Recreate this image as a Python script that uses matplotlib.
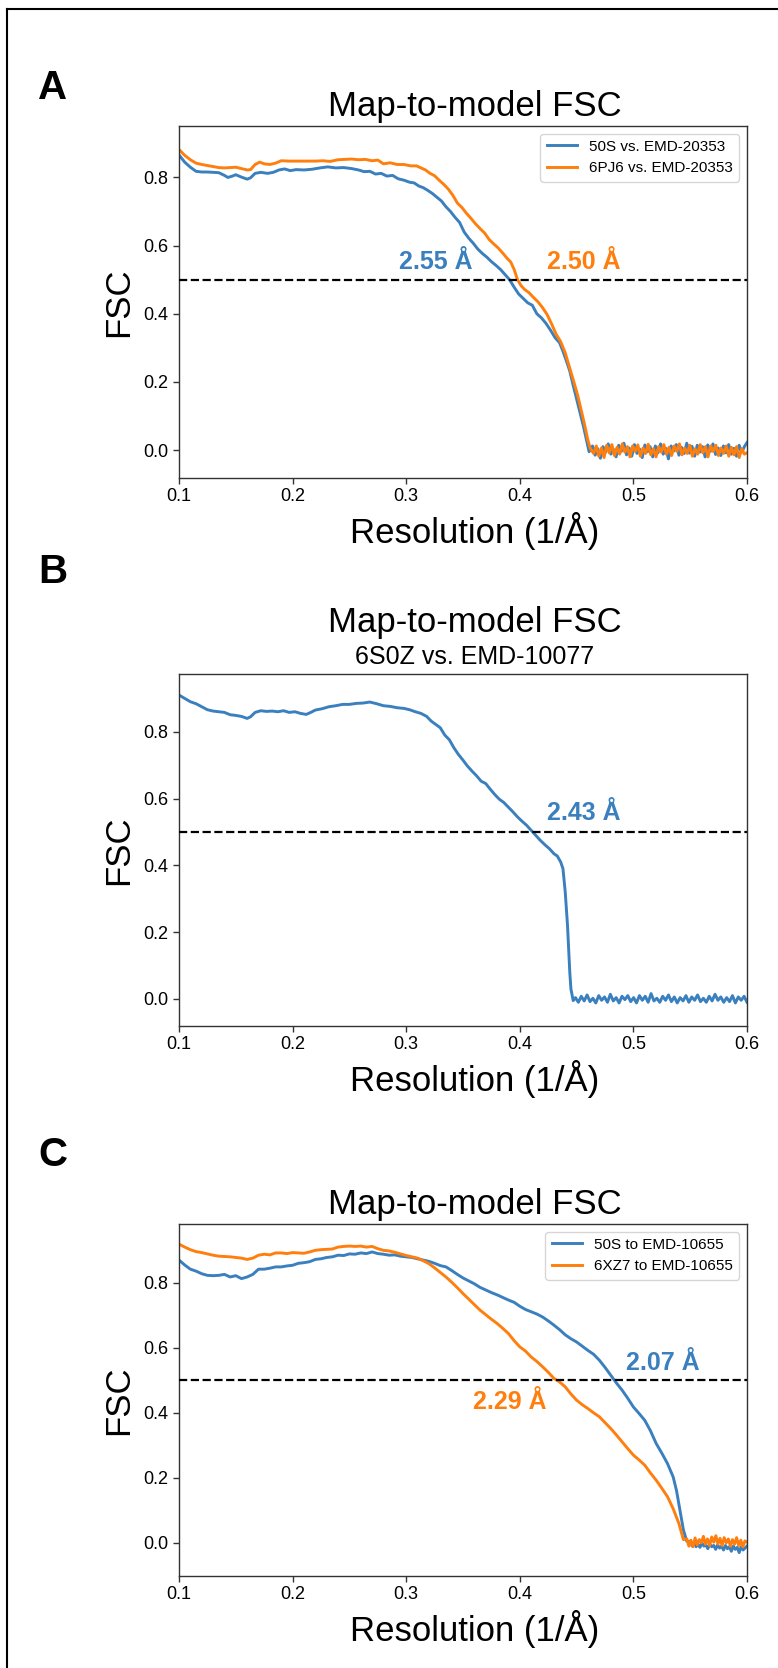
import numpy as np
import matplotlib
matplotlib.use("Agg")
import matplotlib.pyplot as plt
from matplotlib.lines import Line2D

plt.rcParams['font.family'] = ['Liberation Sans', 'DejaVu Sans']

BLUE = '#3a7fbe'
ORANGE = '#ff7f0e'

# ---------------- Panel A data ----------------
a_blue_x = [0.100,0.105,0.110,0.115,0.120,0.125,0.130,0.135,0.140,0.143,0.147,0.150,0.155,0.160,0.163,0.167,
            0.172,0.178,0.183,0.188,0.193,0.198,0.203,0.210,0.217,0.224,0.231,0.238,0.245,0.252,0.258,0.263,
            0.268,0.273,0.278,0.283,0.288,0.293,0.298,0.303,0.307,0.311,0.315,0.319,0.323,0.327,0.331,0.335,
            0.339,0.343,0.347,0.351,0.355,0.359,0.363,0.367,0.371,0.375,0.379,0.383,0.387,0.391,0.395,0.399,
            0.403,0.407,0.411,0.415,0.419,0.423,0.427,0.431,0.435,0.438,0.441,0.444,0.447,0.450,0.453,0.456,
            0.459,0.461]
a_blue_y = [0.866,0.845,0.830,0.818,0.816,0.816,0.815,0.814,0.806,0.800,0.804,0.808,0.801,0.795,0.799,0.812,
            0.815,0.812,0.815,0.822,0.825,0.820,0.823,0.822,0.824,0.828,0.831,0.828,0.829,0.826,0.822,0.817,
            0.818,0.810,0.812,0.804,0.806,0.796,0.792,0.786,0.784,0.775,0.770,0.762,0.753,0.742,0.731,0.714,
            0.700,0.683,0.668,0.640,0.622,0.607,0.590,0.577,0.566,0.553,0.542,0.530,0.515,0.500,0.478,0.458,
            0.445,0.432,0.425,0.400,0.388,0.372,0.352,0.330,0.315,0.290,0.262,0.232,0.190,0.150,0.110,0.070,
            0.025,-0.005]
a_blue_tail = [0.012,-0.015,0.004,-0.024,0.010,-0.006,0.018,-0.012,0.002,-0.020,
               0.014,-0.004,0.020,-0.014,0.006,-0.018,0.016,-0.010,0.003,-0.022,
               0.015,-0.005,0.010,-0.020,0.012,-0.008,0.018,-0.012,0.005,-0.026,
               0.012,-0.003,0.016,-0.015,0.008,-0.010,0.020,-0.009,0.011,-0.018,
               0.014,-0.006,0.010,-0.020,0.015,-0.004,0.018,-0.013,0.006,-0.016,
               0.012,-0.008,0.016,-0.012,0.005,-0.018,0.014,-0.006,0.010,0.022]

a_orange_x = [0.100,0.105,0.110,0.115,0.120,0.125,0.130,0.135,0.140,0.145,0.150,0.155,0.160,0.163,0.167,0.171,
              0.175,0.180,0.185,0.190,0.197,0.205,0.212,0.220,0.227,0.233,0.240,0.246,0.252,0.258,0.264,0.270,
              0.275,0.280,0.286,0.292,0.298,0.304,0.309,0.313,0.317,0.321,0.325,0.329,0.333,0.337,0.341,0.345,
              0.349,0.353,0.357,0.361,0.365,0.369,0.373,0.377,0.381,0.385,0.389,0.392,0.395,0.398,0.401,0.404,
              0.408,0.412,0.416,0.420,0.424,0.428,0.432,0.436,0.440,0.444,0.448,0.451,0.454,0.457,0.460,0.462]
a_orange_y = [0.882,0.865,0.852,0.842,0.838,0.835,0.832,0.829,0.828,0.829,0.830,0.826,0.822,0.823,0.838,0.845,
              0.840,0.838,0.842,0.849,0.848,0.848,0.848,0.848,0.849,0.847,0.852,0.853,0.854,0.852,0.853,0.849,
              0.851,0.840,0.843,0.838,0.838,0.834,0.834,0.828,0.822,0.812,0.805,0.792,0.780,0.766,0.748,0.725,
              0.712,0.695,0.680,0.664,0.650,0.637,0.618,0.605,0.593,0.578,0.562,0.552,0.530,0.500,0.483,0.472,
              0.462,0.448,0.435,0.418,0.398,0.370,0.340,0.318,0.285,0.240,0.195,0.160,0.118,0.075,0.028,0.005]
a_orange_tail = [-0.010,0.012,-0.018,0.006,-0.022,0.014,-0.008,0.016,-0.016,0.008,
                 -0.012,0.018,-0.006,0.010,-0.020,0.012,-0.004,0.015,-0.018,0.006,
                 -0.010,0.017,-0.014,0.004,-0.020,0.010,-0.006,0.016,-0.012,0.008,
                 -0.016,0.012,-0.004,0.018,-0.014,0.006,-0.010,0.014,-0.018,0.004,
                 -0.012,0.016,-0.008,0.010,-0.020,0.012,-0.004,0.014,-0.016,0.006,
                 -0.010,0.012,-0.018,0.008,-0.014,0.010,-0.022,0.004,-0.012,-0.008]

# ---------------- Panel B data ----------------
b_blue_x = [0.100,0.105,0.110,0.115,0.120,0.125,0.130,0.135,0.140,0.145,0.150,0.155,0.160,0.163,0.167,0.172,
            0.177,0.182,0.187,0.192,0.197,0.202,0.207,0.212,0.216,0.220,0.226,0.232,0.238,0.244,0.250,0.256,
            0.262,0.268,0.274,0.280,0.286,0.292,0.298,0.303,0.308,0.313,0.318,0.322,0.326,0.330,0.334,0.338,
            0.342,0.346,0.350,0.354,0.358,0.362,0.366,0.370,0.374,0.378,0.382,0.386,0.390,0.394,0.398,0.402,
            0.406,0.410,0.414,0.418,0.422,0.426,0.430,0.433,0.436,0.438,0.440,0.442,0.443,0.444,0.445,0.447]
b_blue_y = [0.910,0.900,0.890,0.884,0.875,0.866,0.862,0.860,0.858,0.851,0.849,0.846,0.840,0.845,0.858,0.863,
            0.861,0.862,0.860,0.863,0.858,0.860,0.855,0.852,0.858,0.865,0.869,0.875,0.878,0.882,0.882,0.885,
            0.886,0.889,0.884,0.878,0.876,0.872,0.870,0.866,0.860,0.855,0.846,0.832,0.822,0.812,0.790,0.776,
            0.752,0.732,0.715,0.697,0.682,0.668,0.652,0.645,0.628,0.612,0.598,0.588,0.574,0.560,0.545,0.532,
            0.520,0.505,0.490,0.475,0.462,0.450,0.435,0.428,0.410,0.390,0.320,0.220,0.150,0.080,0.030,-0.005]
b_blue_tail = [0.004,-0.010,0.008,-0.006,0.012,-0.008,0.002,-0.012,0.010,-0.004,
               0.006,-0.010,0.014,-0.006,0.004,-0.012,0.008,-0.002,0.010,-0.008,
               0.004,-0.012,0.010,-0.004,0.008,-0.010,0.016,-0.006,0.002,-0.010,
               0.008,-0.004,0.012,-0.008,0.006,-0.012,0.004,-0.006,0.010,-0.010,
               0.006,-0.004,0.012,-0.008,0.002,-0.010,0.008,-0.006,0.014,-0.004,
               0.006,-0.010,0.004,-0.008,0.010,-0.012,0.006,-0.004,0.008,-0.010]

# ---------------- Panel C data ----------------
c_x = [0.100,0.105,0.110,0.115,0.120,0.125,0.130,0.135,0.140,0.145,0.150,0.155,0.160,0.165,0.170,0.175,
       0.180,0.185,0.190,0.195,0.200,0.205,0.210,0.215,0.220,0.225,0.230,0.235,0.240,0.245,0.250,0.255,
       0.260,0.265,0.270,0.275,0.280,0.285,0.290,0.295,0.300,0.305,0.310,0.315,0.320,0.325,0.330,0.335,
       0.340,0.345,0.350,0.355,0.360,0.365,0.370,0.375,0.380,0.385,0.390,0.395,0.400,0.405,0.410,0.415,
       0.420,0.425,0.430,0.435,0.440,0.445,0.450,0.455,0.460,0.465,0.470,0.475,0.480,0.485,0.490,0.495,
       0.500,0.505,0.510,0.515,0.520,0.525,0.530,0.535]
c_blue_y = [0.870,0.855,0.842,0.836,0.828,0.823,0.822,0.823,0.826,0.818,0.822,0.813,0.818,0.826,0.842,0.842,
            0.845,0.849,0.849,0.852,0.854,0.860,0.862,0.865,0.872,0.874,0.878,0.880,0.885,0.884,0.889,0.888,
            0.892,0.890,0.895,0.890,0.888,0.885,0.886,0.882,0.880,0.878,0.874,0.870,0.866,0.860,0.853,0.849,
            0.838,0.826,0.815,0.806,0.797,0.786,0.778,0.770,0.763,0.755,0.747,0.740,0.728,0.718,0.711,0.704,
            0.695,0.683,0.670,0.656,0.640,0.628,0.618,0.605,0.592,0.580,0.562,0.540,0.516,0.492,0.470,0.445,
            0.418,0.398,0.377,0.345,0.306,0.276,0.244,0.203]
c_orange_y = [0.919,0.910,0.902,0.896,0.893,0.889,0.885,0.882,0.881,0.880,0.878,0.876,0.872,0.876,0.885,0.888,
              0.886,0.892,0.892,0.890,0.893,0.892,0.891,0.895,0.900,0.902,0.903,0.904,0.910,0.912,0.913,0.912,
              0.913,0.910,0.912,0.905,0.900,0.898,0.894,0.889,0.884,0.880,0.876,0.868,0.859,0.846,0.832,0.818,
              0.802,0.785,0.767,0.750,0.733,0.716,0.702,0.688,0.675,0.660,0.644,0.622,0.603,0.590,0.572,0.558,
              0.542,0.525,0.506,0.495,0.480,0.458,0.439,0.425,0.413,0.400,0.388,0.370,0.352,0.332,0.311,0.290,
              0.270,0.255,0.239,0.215,0.193,0.168,0.142,0.105]
c_blue_drop_x = [0.538,0.541,0.544,0.547]
c_blue_drop_y = [0.160,0.100,0.040,0.005]
c_orange_drop_x = [0.540,0.544]
c_orange_drop_y = [0.060,0.010]
c_blue_tail = [0.004,-0.010,0.002,-0.012,-0.004,-0.014,0.000,-0.010,-0.006,-0.018,
               -0.004,-0.012,-0.008,-0.020,-0.006,-0.016,-0.010,-0.022,-0.008,-0.018,
               -0.012,-0.026,-0.010,-0.020,-0.014,-0.030,-0.012,-0.022,-0.016,-0.010]
c_orange_tail = [0.012,-0.010,0.008,-0.012,0.015,-0.006,0.010,0.000,0.020,-0.004,
                 0.012,-0.008,0.018,0.002,0.022,-0.004,0.014,-0.008,0.016,0.000,
                 0.012,-0.010,0.010,-0.004,0.016,-0.008,0.008,-0.012,0.006,0.002]

xticks = [0.1, 0.2, 0.3, 0.4, 0.5, 0.6]
yticks = [0.0, 0.2, 0.4, 0.6, 0.8]


def with_tail(x, y, tail, start):
    tx = np.linspace(start, 0.6, len(tail))
    return np.concatenate([x, tx]), np.concatenate([y, tail])


W, H = 778, 1668
fig = plt.figure(figsize=(W / 100, H / 100), dpi=100)

LABEL_X = 0.52


def make_ax(top_px, bottom_px):
    return fig.add_axes([179 / W, 1 - bottom_px / H, 568 / W, (bottom_px - top_px) / H])


def style(ax, ylim):
    ax.set_xlim(0.1, 0.6)
    ax.set_ylim(*ylim)
    ax.set_xticks(xticks)
    ax.set_yticks(yticks)
    ax.set_xticklabels([f"{v:.1f}" for v in xticks])
    ax.set_yticklabels([f"{v:.1f}" for v in yticks])
    ax.tick_params(labelsize=13, color='#333333', width=1.0, length=4)
    for s in ax.spines.values():
        s.set_color('#333333')
        s.set_linewidth(1.0)
    ax.set_xlabel("Resolution (1/Å)", fontsize=25, labelpad=5, x=LABEL_X)
    ax.set_ylabel("FSC", fontsize=25, labelpad=6)
    ax.axhline(0.5, color='black', linestyle='--', linewidth=1.6, zorder=3)


lw = 2.1
ANN = 18

# Panel A
axA = make_ax(126, 478)
x, y = with_tail(a_blue_x, a_blue_y, a_blue_tail, 0.464)
axA.plot(x, y, color=BLUE, lw=lw, label="50S vs. EMD-20353")
x, y = with_tail(a_orange_x, a_orange_y, a_orange_tail, 0.465)
axA.plot(x, y, color=ORANGE, lw=lw, label="6PJ6 vs. EMD-20353")
style(axA, (-0.082, 0.951))
axA.set_title("Map-to-model FSC", fontsize=25, pad=7, x=LABEL_X)
axA.legend(loc='upper right', fontsize=11)
axA.text(0.326, 0.553, "2.55 Å", color=BLUE, fontsize=ANN, fontweight='bold', ha='center', va='center')
axA.text(0.456, 0.553, "2.50 Å", color=ORANGE, fontsize=ANN, fontweight='bold', ha='center', va='center')

# Panel B
axB = make_ax(674, 1026)
x, y = with_tail(b_blue_x, b_blue_y, b_blue_tail, 0.449)
axB.plot(x, y, color=BLUE, lw=lw)
style(axB, (-0.081, 0.973))
axB.set_title("6S0Z vs. EMD-10077", fontsize=18, pad=7, x=LABEL_X)
axB.text(LABEL_X, 1.12, "Map-to-model FSC", fontsize=25, ha='center', va='baseline', transform=axB.transAxes)
axB.text(0.456, 0.558, "2.43 Å", color=BLUE, fontsize=ANN, fontweight='bold', ha='center', va='center')

# Panel C
axC = make_ax(1224, 1576)
x, y = with_tail(c_x + c_blue_drop_x, c_blue_y + c_blue_drop_y, c_blue_tail, 0.550)
axC.plot(x, y, color=BLUE, lw=lw, label="50S to EMD-10655")
x, y = with_tail(c_x + c_orange_drop_x, c_orange_y + c_orange_drop_y, c_orange_tail, 0.547)
axC.plot(x, y, color=ORANGE, lw=lw, label="6XZ7 to EMD-10655")
style(axC, (-0.102, 0.981))
axC.set_title("Map-to-model FSC", fontsize=25, pad=7, x=LABEL_X)
axC.legend(loc='upper right', fontsize=11)
axC.text(0.5255, 0.552, "2.07 Å", color=BLUE, fontsize=ANN, fontweight='bold', ha='center', va='center')
axC.text(0.391, 0.434, "2.29 Å", color=ORANGE, fontsize=ANN, fontweight='bold', ha='center', va='center')

# Panel letters
for lab, ypx in [("A", 88), ("B", 572), ("C", 1155)]:
    fig.text(53 / W, 1 - ypx / H, lab, fontsize=29, fontweight='bold', ha='center', va='center')

# Outer frame (left and top edges visible)
fig.add_artist(Line2D([7 / W, 7 / W], [0, 1 - 9 / H], color='black', lw=1.5, transform=fig.transFigure))
fig.add_artist(Line2D([7 / W, 1], [1 - 9 / H, 1 - 9 / H], color='black', lw=1.5, transform=fig.transFigure))

fig.savefig("out.png", dpi=100)
